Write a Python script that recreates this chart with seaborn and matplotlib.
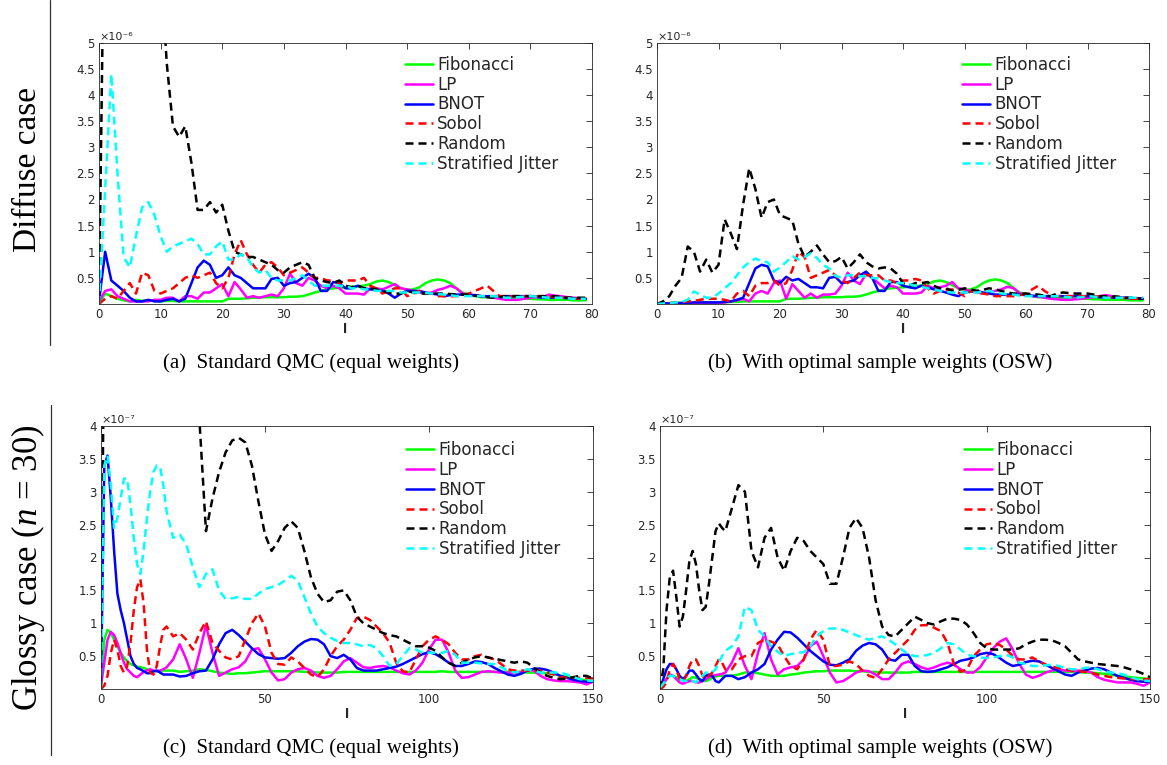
import numpy as np
import pandas as pd
import matplotlib
matplotlib.use("Agg")
import matplotlib.pyplot as plt
import seaborn as sns
from matplotlib.lines import Line2D
from matplotlib.ticker import FuncFormatter

# ---------------------------------------------------------------- data
methods = ["Fibonacci", "LP", "BNOT", "Sobol", "Random", "Stratified Jitter"]
colors = {"Fibonacci": "#00ff00", "LP": "#ff00ff", "BNOT": "#0000ff",
          "Sobol": "#ff0000", "Random": "#000000", "Stratified Jitter": "#00ffff"}
dashed = {"Sobol", "Random", "Stratified Jitter"}

l_diffuse = list(range(0, 80))
l_glossy = list(range(0, 21)) + list(range(22, 151, 2))
scale_diffuse = 1e-6
scale_glossy = 1e-7

# (a) diffuse, standard QMC  (values in units of 1e-6)
a_fibonacci = [0.02, 0.2, 0.15, 0.1, 0.07, 0.05, 0.08, 0.06, 0.07, 0.06,
               0.05, 0.06, 0.06, 0.05, 0.05, 0.05, 0.05, 0.05, 0.05, 0.05,
               0.05, 0.1, 0.1, 0.1, 0.11, 0.12, 0.12, 0.13, 0.13, 0.13,
               0.13, 0.14, 0.14, 0.15, 0.18, 0.22, 0.25, 0.28, 0.3, 0.31,
               0.32, 0.33, 0.34, 0.35, 0.38, 0.43, 0.45, 0.42, 0.36, 0.3,
               0.27, 0.28, 0.32, 0.4, 0.45, 0.47, 0.45, 0.4, 0.3, 0.22,
               0.18, 0.15, 0.13, 0.13, 0.12, 0.12, 0.11, 0.1, 0.1, 0.1,
               0.1, 0.09, 0.09, 0.08, 0.08, 0.08, 0.08, 0.07, 0.07, 0.07]
a_lp = [0.05, 0.25, 0.28, 0.15, 0.1, 0.05, 0.05, 0.05, 0.05, 0.08,
        0.08, 0.12, 0.12, 0.05, 0.15, 0.15, 0.1, 0.22, 0.22, 0.3,
        0.38, 0.15, 0.42, 0.28, 0.12, 0.15, 0.12, 0.15, 0.18, 0.15,
        0.3, 0.58, 0.4, 0.35, 0.5, 0.45, 0.35, 0.3, 0.35, 0.3,
        0.2, 0.2, 0.2, 0.18, 0.3, 0.3, 0.28, 0.33, 0.38, 0.3,
        0.28, 0.25, 0.22, 0.2, 0.22, 0.27, 0.3, 0.35, 0.3, 0.2,
        0.18, 0.16, 0.15, 0.14, 0.12, 0.1, 0.08, 0.08, 0.08, 0.1,
        0.12, 0.13, 0.13, 0.18, 0.16, 0.15, 0.13, 0.12, 0.11, 0.1]
a_bnot = [0.05, 1.0, 0.45, 0.35, 0.25, 0.12, 0.05, 0.05, 0.08, 0.05,
          0.05, 0.08, 0.1, 0.05, 0.1, 0.4, 0.7, 0.83, 0.75, 0.5,
          0.55, 0.7, 0.55, 0.5, 0.4, 0.3, 0.3, 0.3, 0.48, 0.5,
          0.35, 0.4, 0.42, 0.5, 0.58, 0.5, 0.25, 0.25, 0.42, 0.4,
          0.3, 0.3, 0.35, 0.3, 0.28, 0.27, 0.25, 0.2, 0.12, 0.2,
          0.25, 0.25, 0.25, 0.22, 0.2, 0.18, 0.15, 0.17, 0.18, 0.18,
          0.18, 0.17, 0.15, 0.15, 0.15, 0.15, 0.15, 0.15, 0.15, 0.15,
          0.15, 0.14, 0.12, 0.12, 0.12, 0.12, 0.11, 0.11, 0.1, 0.1]
a_sobol = [0.0, 0.1, 0.15, 0.1, 0.25, 0.4, 0.2, 0.6, 0.55, 0.25,
           0.2, 0.25, 0.3, 0.4, 0.5, 0.55, 0.5, 0.55, 0.6, 0.4,
           0.3, 0.5, 0.95, 1.22, 0.95, 0.75, 0.6, 0.75, 0.8, 0.7,
           0.55, 0.6, 0.65, 0.7, 0.6, 0.5, 0.5, 0.45, 0.45, 0.4,
           0.45, 0.45, 0.45, 0.5, 0.35, 0.3, 0.2, 0.25, 0.3, 0.3,
           0.15, 0.2, 0.25, 0.2, 0.2, 0.15, 0.15, 0.15, 0.15, 0.17,
           0.2, 0.25, 0.3, 0.35, 0.25, 0.15, 0.15, 0.15, 0.15, 0.15,
           0.15, 0.15, 0.15, 0.14, 0.13, 0.12, 0.12, 0.11, 0.1, 0.1]
a_random = [0.0, 9.0, 8.5, 8.0, 7.8, 7.5, 7.2, 7.0, 6.8, 6.6,
            6.5, 4.6, 3.4, 3.2, 3.4, 2.7, 1.8, 1.8, 1.95, 1.75,
            1.9, 1.4, 1.0, 0.95, 0.9, 0.9, 0.85, 0.8, 0.75, 0.65,
            0.6, 0.7, 0.75, 0.8, 0.75, 0.5, 0.45, 0.42, 0.4, 0.45,
            0.35, 0.32, 0.35, 0.3, 0.3, 0.28, 0.25, 0.22, 0.2, 0.2,
            0.25, 0.22, 0.2, 0.2, 0.2, 0.2, 0.2, 0.19, 0.18, 0.18,
            0.18, 0.16, 0.15, 0.13, 0.12, 0.13, 0.15, 0.15, 0.15, 0.15,
            0.15, 0.15, 0.15, 0.15, 0.15, 0.14, 0.12, 0.12, 0.12, 0.12]
a_jitter = [0.0, 2.2, 4.4, 2.5, 0.9, 0.7, 1.3, 1.85, 1.95, 1.7,
            1.3, 1.0, 1.1, 1.15, 1.2, 1.25, 1.15, 0.95, 0.95, 1.1,
            1.2, 0.85, 0.85, 0.95, 0.9, 0.7, 0.6, 0.65, 0.5, 0.45,
            0.45, 0.45, 0.5, 0.55, 0.45, 0.35, 0.35, 0.35, 0.35, 0.35,
            0.35, 0.3, 0.3, 0.28, 0.28, 0.25, 0.25, 0.25, 0.25, 0.22,
            0.22, 0.22, 0.22, 0.21, 0.2, 0.19, 0.18, 0.17, 0.15, 0.15,
            0.15, 0.15, 0.15, 0.15, 0.15, 0.14, 0.12, 0.12, 0.13, 0.14,
            0.15, 0.14, 0.13, 0.12, 0.12, 0.12, 0.11, 0.1, 0.1, 0.1]

# (b) diffuse, optimal sample weights (values in units of 1e-6)
b_fibonacci = [0.0, 0.01, 0.01, 0.02, 0.02, 0.02, 0.02, 0.02, 0.03, 0.03,
               0.03, 0.03, 0.04, 0.04, 0.05, 0.05, 0.05, 0.05, 0.05, 0.05,
               0.05, 0.1, 0.1, 0.1, 0.11, 0.12, 0.12, 0.13, 0.13, 0.13,
               0.13, 0.14, 0.14, 0.15, 0.18, 0.22, 0.25, 0.28, 0.3, 0.31,
               0.32, 0.33, 0.34, 0.35, 0.38, 0.43, 0.45, 0.42, 0.36, 0.3,
               0.27, 0.28, 0.32, 0.4, 0.45, 0.47, 0.45, 0.4, 0.3, 0.22,
               0.18, 0.15, 0.13, 0.13, 0.12, 0.12, 0.11, 0.1, 0.1, 0.1,
               0.1, 0.09, 0.09, 0.08, 0.08, 0.08, 0.08, 0.07, 0.07, 0.07]
b_lp = [0.0, 0.01, 0.01, 0.01, 0.01, 0.02, 0.02, 0.02, 0.02, 0.02,
        0.02, 0.03, 0.05, 0.07, 0.1, 0.05, 0.2, 0.25, 0.2, 0.4,
        0.45, 0.1, 0.38, 0.25, 0.12, 0.2, 0.12, 0.18, 0.18, 0.2,
        0.35, 0.6, 0.45, 0.38, 0.58, 0.5, 0.4, 0.3, 0.35, 0.32,
        0.2, 0.2, 0.2, 0.22, 0.35, 0.3, 0.32, 0.35, 0.42, 0.3,
        0.28, 0.25, 0.22, 0.2, 0.22, 0.25, 0.28, 0.33, 0.3, 0.2,
        0.18, 0.15, 0.14, 0.12, 0.1, 0.09, 0.08, 0.08, 0.09, 0.1,
        0.12, 0.13, 0.15, 0.17, 0.15, 0.13, 0.12, 0.11, 0.1, 0.1]
b_bnot = [0.0, 0.01, 0.01, 0.02, 0.02, 0.02, 0.03, 0.03, 0.03, 0.03,
          0.03, 0.04, 0.05, 0.08, 0.12, 0.4, 0.68, 0.75, 0.72, 0.45,
          0.4, 0.52, 0.45, 0.48, 0.4, 0.32, 0.32, 0.3, 0.5, 0.52,
          0.4, 0.42, 0.45, 0.55, 0.62, 0.5, 0.25, 0.25, 0.42, 0.42,
          0.35, 0.32, 0.3, 0.35, 0.32, 0.28, 0.25, 0.22, 0.18, 0.15,
          0.22, 0.24, 0.25, 0.22, 0.2, 0.18, 0.18, 0.18, 0.18, 0.18,
          0.17, 0.16, 0.15, 0.15, 0.15, 0.15, 0.15, 0.15, 0.15, 0.15,
          0.15, 0.14, 0.13, 0.12, 0.12, 0.12, 0.12, 0.11, 0.1, 0.1]
b_sobol = [0.0, 0.01, 0.02, 0.03, 0.04, 0.05, 0.06, 0.08, 0.1, 0.1,
           0.1, 0.08, 0.05, 0.2, 0.25, 0.15, 0.35, 0.4, 0.4, 0.45,
           0.35, 0.4, 0.65, 1.0, 0.9, 0.5, 0.55, 0.6, 0.65, 0.55,
           0.45, 0.4, 0.5, 0.6, 0.55, 0.55, 0.55, 0.45, 0.45, 0.4,
           0.45, 0.45, 0.48, 0.45, 0.3, 0.2, 0.25, 0.27, 0.28, 0.22,
           0.15, 0.25, 0.22, 0.2, 0.18, 0.15, 0.15, 0.15, 0.15, 0.17,
           0.2, 0.28, 0.35, 0.25, 0.18, 0.15, 0.15, 0.15, 0.15, 0.15,
           0.15, 0.15, 0.14, 0.13, 0.12, 0.12, 0.11, 0.1, 0.1, 0.1]
b_random = [0.0, 0.05, 0.15, 0.35, 0.5, 1.1, 1.0, 0.62, 0.85, 0.6,
            0.75, 1.62, 1.35, 1.05, 1.9, 2.6, 2.2, 1.65, 1.95, 2.0,
            1.7, 1.65, 1.6, 1.15, 0.9, 1.0, 1.12, 0.95, 0.8, 0.82,
            0.9, 0.68, 0.8, 0.95, 0.8, 0.72, 0.68, 0.7, 0.68, 0.58,
            0.4, 0.35, 0.4, 0.4, 0.42, 0.35, 0.3, 0.3, 0.25, 0.27,
            0.3, 0.28, 0.25, 0.27, 0.3, 0.28, 0.25, 0.22, 0.2, 0.2,
            0.2, 0.19, 0.18, 0.16, 0.15, 0.2, 0.22, 0.21, 0.2, 0.2,
            0.2, 0.18, 0.15, 0.15, 0.15, 0.14, 0.12, 0.12, 0.11, 0.1]
b_jitter = [0.0, 0.01, 0.02, 0.03, 0.04, 0.08, 0.24, 0.18, 0.12, 0.12,
            0.2, 0.3, 0.4, 0.55, 0.7, 0.8, 0.87, 0.82, 0.8, 0.62,
            0.7, 0.8, 0.92, 0.85, 0.9, 0.97, 0.88, 0.75, 0.68, 0.54,
            0.5, 0.55, 0.55, 0.53, 0.53, 0.5, 0.49, 0.45, 0.42, 0.4,
            0.4, 0.38, 0.35, 0.33, 0.3, 0.28, 0.25, 0.23, 0.22, 0.22,
            0.22, 0.22, 0.22, 0.23, 0.25, 0.22, 0.2, 0.19, 0.18, 0.16,
            0.15, 0.15, 0.15, 0.15, 0.15, 0.15, 0.14, 0.13, 0.12, 0.13,
            0.15, 0.14, 0.13, 0.12, 0.12, 0.12, 0.12, 0.12, 0.12, 0.12]

# (c) glossy, standard QMC (values in units of 1e-7)
c_fibonacci = [0.05, 0.75, 0.9, 0.85, 0.75, 0.65, 0.55, 0.48, 0.42, 0.38,
               0.36, 0.34, 0.33, 0.32, 0.3, 0.28, 0.27, 0.27, 0.28, 0.28, 0.28,
               0.28, 0.26, 0.27, 0.28, 0.3, 0.29, 0.27, 0.25, 0.24, 0.23,
               0.24, 0.24, 0.25, 0.26, 0.27, 0.27, 0.27, 0.27, 0.27, 0.27,
               0.26, 0.26, 0.25, 0.25, 0.25, 0.25, 0.26, 0.26, 0.26, 0.26,
               0.26, 0.26, 0.26, 0.26, 0.26, 0.26, 0.26, 0.26, 0.26, 0.26,
               0.26, 0.27, 0.26, 0.26, 0.26, 0.26, 0.26, 0.26, 0.26, 0.26,
               0.26, 0.26, 0.26, 0.26, 0.25, 0.25, 0.24, 0.24, 0.23, 0.2,
               0.19, 0.17, 0.15, 0.13, 0.12]
c_lp = [0.05, 0.4, 0.75, 0.87, 0.82, 0.7, 0.55, 0.4, 0.3, 0.25,
        0.2, 0.18, 0.22, 0.26, 0.28, 0.3, 0.28, 0.27, 0.28, 0.3, 0.33,
        0.45, 0.68, 0.45, 0.17, 0.55, 0.97, 0.55, 0.2, 0.25, 0.3,
        0.33, 0.42, 0.6, 0.62, 0.45, 0.25, 0.13, 0.15, 0.25, 0.3,
        0.32, 0.28, 0.2, 0.17, 0.2, 0.3, 0.42, 0.47, 0.4, 0.33,
        0.32, 0.34, 0.35, 0.33, 0.28, 0.24, 0.22, 0.28, 0.4, 0.6,
        0.75, 0.75, 0.55, 0.28, 0.17, 0.18, 0.22, 0.26, 0.27, 0.26,
        0.25, 0.25, 0.24, 0.26, 0.29, 0.28, 0.2, 0.15, 0.13, 0.12,
        0.12, 0.11, 0.1, 0.07, 0.11]
c_bnot = [0.1, 3.4, 3.55, 2.9, 2.1, 1.45, 1.2, 1.0, 0.75, 0.5,
          0.38, 0.32, 0.3, 0.27, 0.24, 0.24, 0.27, 0.28, 0.25, 0.22, 0.22,
          0.22, 0.19, 0.2, 0.24, 0.27, 0.28, 0.45, 0.68, 0.85, 0.9,
          0.82, 0.72, 0.62, 0.53, 0.48, 0.47, 0.46, 0.47, 0.55, 0.65,
          0.72, 0.76, 0.75, 0.68, 0.5, 0.47, 0.52, 0.45, 0.32, 0.28,
          0.28, 0.28, 0.3, 0.32, 0.34, 0.38, 0.43, 0.48, 0.53, 0.56,
          0.53, 0.47, 0.4, 0.35, 0.35, 0.38, 0.42, 0.41, 0.38, 0.32,
          0.27, 0.22, 0.2, 0.23, 0.28, 0.31, 0.31, 0.29, 0.25, 0.2,
          0.17, 0.14, 0.12, 0.11, 0.11]
c_sobol = [0.0, 0.05, 0.2, 0.55, 0.75, 0.6, 0.35, 0.25, 0.35, 0.7,
           1.2, 1.55, 1.67, 1.3, 0.6, 0.25, 0.22, 0.35, 0.65, 0.9, 0.95,
           0.8, 0.85, 0.75, 0.6, 0.85, 1.03, 0.7, 0.58, 0.48, 0.45,
           0.5, 0.75, 1.0, 1.15, 0.95, 0.55, 0.38, 0.37, 0.48, 0.42,
           0.32, 0.22, 0.18, 0.3, 0.5, 0.65, 0.75, 0.9, 1.08, 1.1,
           1.05, 0.95, 0.85, 0.7, 0.4, 0.27, 0.25, 0.45, 0.65, 0.75,
           0.8, 0.75, 0.68, 0.55, 0.45, 0.45, 0.5, 0.52, 0.48, 0.45,
           0.38, 0.3, 0.28, 0.28, 0.28, 0.28, 0.28, 0.25, 0.22, 0.18,
           0.17, 0.17, 0.17, 0.17, 0.16]
c_random = [0.0, 6.0, 6.5, 7.0, 7.0, 7.0, 7.0, 7.0, 7.0, 7.0,
            7.0, 7.0, 7.0, 7.0, 7.0, 7.0, 7.0, 7.0, 7.0, 7.0, 7.0,
            7.0, 7.0, 6.5, 6.0, 4.1, 2.4, 2.9, 3.3, 3.6, 3.78,
            3.82, 3.75, 3.4, 2.85, 2.35, 2.1, 2.25, 2.45, 2.55, 2.45,
            2.1, 1.7, 1.45, 1.32, 1.35, 1.48, 1.5, 1.35, 1.1, 1.0,
            0.95, 0.9, 0.85, 0.82, 0.8, 0.75, 0.7, 0.65, 0.65, 0.63,
            0.58, 0.48, 0.4, 0.35, 0.4, 0.45, 0.48, 0.5, 0.48, 0.46,
            0.44, 0.42, 0.4, 0.42, 0.4, 0.32, 0.25, 0.2, 0.17, 0.15,
            0.16, 0.18, 0.2, 0.2, 0.16]
c_jitter = [0.0, 3.4, 3.55, 3.1, 2.45, 2.6, 2.9, 3.2, 3.2, 2.8,
            2.3, 1.9, 1.75, 2.1, 2.6, 3.0, 3.3, 3.4, 3.38, 3.1, 2.7,
            2.3, 2.35, 2.2, 1.85, 1.55, 1.75, 1.82, 1.5, 1.37, 1.38,
            1.4, 1.37, 1.37, 1.45, 1.52, 1.55, 1.58, 1.65, 1.72, 1.65,
            1.4, 1.15, 0.95, 0.85, 0.78, 0.73, 0.7, 0.7, 0.68, 0.65,
            0.67, 0.62, 0.5, 0.35, 0.38, 0.5, 0.62, 0.6, 0.55, 0.55,
            0.55, 0.55, 0.58, 0.52, 0.4, 0.4, 0.4, 0.39, 0.38, 0.38,
            0.33, 0.28, 0.25, 0.27, 0.3, 0.28, 0.25, 0.25, 0.25, 0.25,
            0.22, 0.18, 0.15, 0.13, 0.12]

# (d) glossy, optimal sample weights (values in units of 1e-7)
d_fibonacci = [0.0, 0.08, 0.15, 0.2, 0.2, 0.18, 0.15, 0.13, 0.12, 0.15,
               0.18, 0.17, 0.15, 0.13, 0.12, 0.14, 0.17, 0.19, 0.2, 0.2, 0.2,
               0.2, 0.22, 0.25, 0.25, 0.24, 0.22, 0.2, 0.2, 0.2, 0.22,
               0.23, 0.25, 0.26, 0.27, 0.27, 0.28, 0.28, 0.28, 0.28, 0.27,
               0.27, 0.26, 0.26, 0.25, 0.25, 0.25, 0.25, 0.25, 0.26, 0.26,
               0.26, 0.26, 0.26, 0.26, 0.26, 0.26, 0.26, 0.26, 0.26, 0.26,
               0.26, 0.26, 0.26, 0.26, 0.26, 0.26, 0.26, 0.26, 0.26, 0.26,
               0.26, 0.26, 0.26, 0.26, 0.25, 0.25, 0.24, 0.23, 0.22, 0.2,
               0.19, 0.18, 0.17, 0.16, 0.15]
d_lp = [0.0, 0.08, 0.15, 0.22, 0.2, 0.15, 0.1, 0.08, 0.1, 0.12,
        0.12, 0.1, 0.1, 0.12, 0.15, 0.18, 0.2, 0.21, 0.22, 0.23, 0.25,
        0.4, 0.62, 0.35, 0.15, 0.55, 0.85, 0.45, 0.22, 0.3, 0.33,
        0.35, 0.45, 0.65, 0.72, 0.5, 0.25, 0.1, 0.12, 0.18, 0.25,
        0.28, 0.27, 0.22, 0.15, 0.15, 0.25, 0.38, 0.42, 0.38, 0.33,
        0.3, 0.33, 0.37, 0.4, 0.37, 0.3, 0.25, 0.25, 0.33, 0.48,
        0.62, 0.72, 0.77, 0.6, 0.38, 0.22, 0.17, 0.2, 0.25, 0.28,
        0.3, 0.28, 0.27, 0.28, 0.28, 0.25, 0.18, 0.14, 0.12, 0.1,
        0.1, 0.1, 0.08, 0.05, 0.1]
d_bnot = [0.0, 0.15, 0.3, 0.38, 0.38, 0.3, 0.2, 0.15, 0.2, 0.28,
          0.28, 0.22, 0.15, 0.12, 0.2, 0.22, 0.2, 0.12, 0.1, 0.15, 0.2,
          0.2, 0.15, 0.18, 0.25, 0.3, 0.38, 0.6, 0.75, 0.87, 0.86,
          0.78, 0.68, 0.58, 0.5, 0.42, 0.37, 0.36, 0.4, 0.45, 0.58,
          0.66, 0.7, 0.68, 0.6, 0.45, 0.43, 0.52, 0.52, 0.35, 0.27,
          0.26, 0.27, 0.3, 0.33, 0.38, 0.43, 0.45, 0.48, 0.53, 0.55,
          0.53, 0.47, 0.4, 0.35, 0.37, 0.41, 0.43, 0.42, 0.37, 0.32,
          0.27, 0.22, 0.2, 0.25, 0.28, 0.31, 0.32, 0.3, 0.25, 0.2,
          0.17, 0.14, 0.12, 0.11, 0.11]
d_sobol = [0.0, 0.03, 0.1, 0.3, 0.38, 0.3, 0.15, 0.1, 0.2, 0.35,
           0.45, 0.45, 0.35, 0.2, 0.15, 0.2, 0.25, 0.35, 0.45, 0.4, 0.3,
           0.3, 0.45, 0.5, 0.5, 0.7, 0.75, 0.72, 0.68, 0.5, 0.35,
           0.3, 0.45, 0.75, 0.9, 0.75, 0.35, 0.35, 0.37, 0.42, 0.38,
           0.28, 0.2, 0.17, 0.3, 0.45, 0.55, 0.65, 0.75, 0.9, 0.97,
           0.97, 0.93, 0.88, 0.7, 0.38, 0.26, 0.3, 0.5, 0.6, 0.68,
           0.7, 0.67, 0.6, 0.5, 0.45, 0.45, 0.48, 0.42, 0.37, 0.34,
           0.32, 0.3, 0.28, 0.27, 0.26, 0.25, 0.22, 0.2, 0.18, 0.17,
           0.16, 0.15, 0.15, 0.15, 0.15]
d_random = [0.0, 0.3, 1.2, 1.7, 1.8, 1.4, 0.95, 1.1, 1.5, 1.95,
            2.1, 1.9, 1.5, 1.2, 1.25, 1.6, 2.0, 2.4, 2.52, 2.45, 2.4,
            2.75, 3.1, 3.0, 2.1, 1.85, 2.3, 2.45, 2.0, 1.8, 2.1,
            2.3, 2.25, 2.1, 2.0, 1.9, 1.6, 1.6, 2.0, 2.45, 2.6,
            2.45, 2.0, 1.35, 0.95, 0.82, 0.8, 0.9, 1.0, 1.1, 1.05,
            1.0, 0.98, 1.03, 1.07, 1.07, 1.05, 0.98, 0.85, 0.7, 0.62,
            0.6, 0.6, 0.6, 0.6, 0.62, 0.68, 0.72, 0.75, 0.75, 0.74,
            0.7, 0.65, 0.55, 0.45, 0.42, 0.4, 0.38, 0.37, 0.36, 0.35,
            0.33, 0.3, 0.27, 0.23, 0.18]
d_jitter = [0.02, 0.08, 0.15, 0.2, 0.2, 0.17, 0.15, 0.13, 0.12, 0.15,
            0.12, 0.1, 0.15, 0.2, 0.25, 0.25, 0.25, 0.3, 0.4, 0.5, 0.58,
            0.65, 0.8, 1.25, 1.2, 0.9, 0.8, 0.65, 0.57, 0.5, 0.53,
            0.55, 0.56, 0.65, 0.8, 0.88, 0.92, 0.92, 0.9, 0.86, 0.82,
            0.78, 0.75, 0.78, 0.8, 0.75, 0.68, 0.6, 0.53, 0.5, 0.5,
            0.52, 0.55, 0.62, 0.7, 0.68, 0.6, 0.52, 0.5, 0.48, 0.47,
            0.48, 0.5, 0.52, 0.48, 0.4, 0.38, 0.35, 0.35, 0.36, 0.37,
            0.35, 0.32, 0.3, 0.3, 0.32, 0.33, 0.3, 0.27, 0.25, 0.24,
            0.22, 0.18, 0.15, 0.13, 0.12]

captions = ["(a)  Standard QMC (equal weights)",
            "(b)  With optimal sample weights (OSW)",
            "(c)  Standard QMC (equal weights)",
            "(d)  With optimal sample weights (OSW)"]
row_labels = ["Diffuse case", r"Glossy case ($n$ = 30)"]

# ---------------------------------------------------------------- style
sns.set_theme(style="white")
plt.rcParams["font.family"] = ["DejaVu Sans"]
plt.rcParams["mathtext.fontset"] = "custom"
plt.rcParams["mathtext.rm"] = "Liberation Serif"
plt.rcParams["mathtext.it"] = "Liberation Serif:italic"

W, H = 1167, 765
fig = plt.figure(figsize=(W / 100, H / 100), dpi=100)
fig.patch.set_facecolor("white")


def rect(x0, x1, y0, y1):
    return [x0 / W, 1 - y1 / H, (x1 - x0) / W, (y1 - y0) / H]


panels = [
    dict(rect=rect(99, 592, 42.7, 304), l=l_diffuse, scale=scale_diffuse,
         series=[a_fibonacci, a_lp, a_bnot, a_sobol, a_random, a_jitter],
         xmax=80, xticks=list(range(0, 81, 10)), ymax=5, exp="\u00d710\u207b\u2076",
         leg_y=0.95),
    dict(rect=rect(657, 1149, 42.7, 304), l=l_diffuse, scale=scale_diffuse,
         series=[b_fibonacci, b_lp, b_bnot, b_sobol, b_random, b_jitter],
         xmax=80, xticks=list(range(0, 81, 10)), ymax=5, exp="\u00d710\u207b\u2076",
         leg_y=0.95),
    dict(rect=rect(101, 593, 426, 689), l=l_glossy, scale=scale_glossy,
         series=[c_fibonacci, c_lp, c_bnot, c_sobol, c_random, c_jitter],
         xmax=150, xticks=[0, 50, 100, 150], ymax=4, exp="\u00d710\u207b\u2077",
         leg_y=0.943),
    dict(rect=rect(660, 1150, 426, 689), l=l_glossy, scale=scale_glossy,
         series=[d_fibonacci, d_lp, d_bnot, d_sobol, d_random, d_jitter],
         xmax=150, xticks=[0, 50, 100, 150], ymax=4, exp="\u00d710\u207b\u2077",
         leg_y=0.943),
]

axis_col = "#262626"
for p in panels:
    ax = fig.add_axes(p["rect"])
    frames = [pd.DataFrame({"l": p["l"], "err": np.asarray(vals) * p["scale"], "method": m})
              for m, vals in zip(methods, p["series"])]
    df = pd.concat(frames, ignore_index=True)
    for m in methods:
        sub = df[df["method"] == m]
        sns.lineplot(data=sub, x="l", y="err", ax=ax, color=colors[m], lw=1.8,
                     linestyle=(0, (3.2, 2.0)) if m in dashed else "-",
                     label=m, estimator=None, errorbar=None, sort=False)
    sc = p["scale"]
    ax.set_xlim(0, p["xmax"])
    ax.set_ylim(0, p["ymax"] * sc)
    ax.set_xticks(p["xticks"])
    ax.set_yticks([k * 0.5 * sc for k in range(1, 2 * p["ymax"] + 1)])
    ax.yaxis.set_major_formatter(FuncFormatter(lambda v, pos, sc=sc: f"{round(v / sc, 3):g}"))
    ax.tick_params(direction="in", top=True, right=True, length=4, width=0.6,
                   colors=axis_col, labelsize=8.5, pad=3)
    for s in ax.spines.values():
        s.set_color(axis_col)
        s.set_linewidth(0.6)
    ax.set_xlabel("l", fontsize=9, fontweight="bold", labelpad=1, color=axis_col)
    ax.set_ylabel("")
    ax.text(0.0, 1.004, p["exp"], transform=ax.transAxes, ha="left", va="bottom",
            fontsize=8, color=axis_col)
    ax.legend(loc="upper left", bbox_to_anchor=(0.62, p["leg_y"]), frameon=False,
              fontsize=12, handlelength=1.7, handletextpad=0.25, labelspacing=0.11,
              borderpad=0, borderaxespad=0)

# captions
cap_pos = [(311, 363), (880, 363), (311, 748), (880, 748)]
for txt, (cx, cy) in zip(captions, cap_pos):
    fig.text(cx / W, 1 - cy / H, txt, ha="center", va="center",
             fontsize=15, family="Liberation Serif", color="black")

# row labels and separator lines
fig.text(28 / W, 1 - 170 / H, row_labels[0], rotation=90, ha="center", va="center",
         fontsize=24, family="Liberation Serif", color="black")
fig.text(28 / W, 1 - 568 / H, row_labels[1], rotation=90, ha="center", va="center",
         fontsize=25, family="Liberation Serif", color="black")
fig.add_artist(Line2D([50 / W, 50 / W], [1.0, 1 - 345 / H], transform=fig.transFigure,
                      color="#333333", lw=0.9))
fig.add_artist(Line2D([51 / W, 51 / W], [1 - 405 / H, 1 - 755 / H], transform=fig.transFigure,
                      color="#333333", lw=0.9))

fig.savefig("out.png", dpi=100, facecolor="white")
